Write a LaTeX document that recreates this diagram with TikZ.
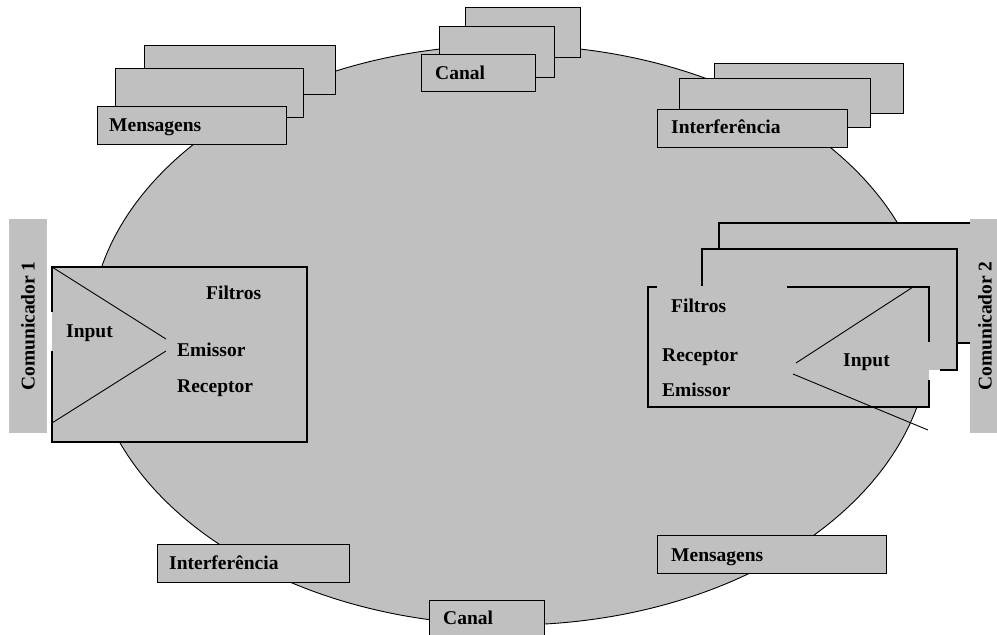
\documentclass[tikz,border=0pt]{standalone}
\usepackage{fontspec}
\setmainfont{Liberation Serif}
\definecolor{paneGray}{RGB}{192,192,192}
\begin{document}
\begin{tikzpicture}[x=1pt,y=-1pt,
  pane/.style={draw=black, fill=paneGray, line width=1.3pt, inner sep=0pt, anchor=north west},
  flat/.style={fill=paneGray, inner sep=0pt, anchor=north west},
  lbl/.style={font=\fontsize{19.5pt}{22pt}\selectfont\bfseries, inner sep=0pt, anchor=base west},
  edge/.style={line width=1.3pt},
  wire/.style={line width=0.9pt},
  side/.style={fill=paneGray, inner sep=0pt, rotate=90,
    font=\fontsize{19.5pt}{22pt}\selectfont\bfseries},
]
\useasboundingbox (0,0) rectangle (997,635);

% the shared field
\draw[fill=paneGray, line width=0.9pt] (510,335) ellipse [x radius=420pt, y radius=290pt];

% message stack, top left
\node[pane, minimum width=191pt, minimum height=49pt] (msgC) at (144,45) {};
\node[pane, minimum width=188pt, minimum height=49pt] (msgB) at (115,68) {};
\node[pane, minimum width=189pt, minimum height=38pt] (msgA) at (97,106) {};
\node[lbl] (msgT) at (109,131) {Mensagens};

% channel stack, top
\node[pane, minimum width=115pt, minimum height=50pt] (canC) at (465,7) {};
\node[pane, minimum width=115pt, minimum height=51pt] (canB) at (439,26) {};
\node[pane, minimum width=114pt, minimum height=37pt] (canA) at (421,54) {};
\node[lbl] (canT) at (435,79) {Canal};

% interference stack, top right
\node[pane, minimum width=189pt, minimum height=50pt] (intC) at (714,63) {};
\node[pane, minimum width=191pt, minimum height=49pt] (intB) at (679,78) {};
\node[pane, minimum width=190pt, minimum height=38pt] (intA) at (657,109) {};
\node[lbl] (intT) at (671,133) {Interferência};

% single labels, bottom
\node[pane, minimum width=192pt, minimum height=38pt] (intD) at (157,544) {};
\node[lbl] (intDT) at (169,569) {Interferência};
\node[pane, minimum width=229pt, minimum height=38pt] (msgD) at (657,535) {};
\node[lbl] (msgDT) at (671,561) {Mensagens};
\node[pane, minimum width=115pt, minimum height=45pt] (canD) at (429,600) {};
\node[lbl] (canDT) at (443,624) {Canal};

% communicator 1
\node[side, minimum width=214pt, minimum height=38pt] (com1) at (28,326) {Comunicador 1};
\node[flat, minimum width=255pt, minimum height=175pt] (box1) at (52,267) {};
\draw[edge] (52,312) -- (52,267) -- (307,267) -- (307,442) -- (52,442) -- (52,351);
\coordinate (tip1a) at (166,339);
\coordinate (tip1b) at (166,351);
\draw[wire] (box1.north west) -- (tip1a);
\draw[wire] (52,423) -- (tip1b);
\node[lbl] (fil1) at (206,299) {Filtros};
\node[lbl] (inp1) at (66,337) {Input};
\node[lbl] (emi1) at (177,356) {Emissor};
\node[lbl] (rec1) at (177,392) {Receptor};

% communicator 2 (stacked frames)
\fill[paneGray] (719,223) rectangle (970,343);
\fill[paneGray] (702,249) rectangle (957,370);
\fill[paneGray] (648,287) rectangle (929,407);
\draw[edge] (719,249) -- (719,223) -- (970,223);
\draw[edge] (957,343) -- (970,343);
\draw[edge] (702,286) -- (702,249) -- (957,249) -- (957,370) -- (940,370);
\draw[edge] (657,287) -- (648,287) -- (648,407) -- (929,407) -- (929,380);
\draw[edge] (787,287) -- (929,287) -- (929,342);
\coordinate (tip2a) at (796,363);
\coordinate (tip2b) at (793,374);
\draw[wire] (913,287) -- (tip2a);
\draw[wire] (tip2b) -- (928,430);
\node[side, minimum width=214pt, minimum height=30pt] (com2) at (985,326) {Comunicador 2};
\node[lbl] (fil2) at (671,312) {Filtros};
\node[lbl] (rec2) at (662,361) {Receptor};
\node[lbl] (emi2) at (662,396) {Emissor};
\node[lbl] (inp2) at (843,366) {Input};
\end{tikzpicture}
\end{document}
